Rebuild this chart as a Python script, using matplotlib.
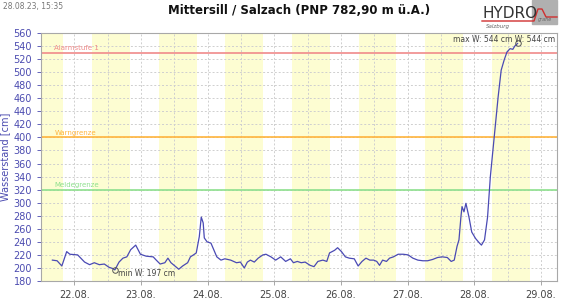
import numpy as np
import matplotlib.pyplot as plt
from matplotlib.patches import Rectangle

# hours since 22.08.2023 00:00 and water level in cm
hours = [-7.9, -6.2, -4.5, -2.75, -1.6, 1.2, 3.7, 5.5, 7.2, 9.0, 10.8, 12.5, 13.9, 14.6,
         16.1, 17.5, 18.9, 20.3, 22.1, 23.8, 25.9, 28.4, 29.5, 30.9, 32.6, 33.7, 34.8,
         36.5, 37.6, 39.0, 40.8, 41.8, 42.9, 43.9, 45.0, 45.7, 46.4, 46.8, 47.8, 49.2,
         50.3, 51.3, 52.8, 54.2, 56.3, 58.4, 59.8, 61.2, 62.3, 63.4, 64.8, 66.2, 67.9,
         69.0, 70.8, 72.5, 74.3, 76.1, 77.8, 78.9, 80.3, 81.7, 83.1, 84.9, 86.3, 87.7,
         89.5, 90.9, 91.9, 93.7, 94.8, 96.2, 97.6, 99.0, 100.8, 102.2, 103.6, 105.0,
         106.4, 107.8, 108.9, 109.9, 111.0, 112.4, 113.5, 114.9, 116.6, 118.4, 120.2,
         121.9, 123.7, 125.5, 127.2, 129.0, 130.8, 132.5, 134.3, 135.7, 136.8, 137.8,
         138.5, 139.2, 139.6, 140.3, 141.0, 142.1, 143.1, 144.5, 145.9, 146.6, 147.7,
         148.8, 149.8, 151.2, 152.6, 153.7, 154.8, 155.8, 156.9, 157.9, 158.6, 159.6]
level = [212, 211, 203, 225, 221, 220, 209, 205, 208, 205, 206, 201, 199, 197,
         209, 215, 217, 228, 235, 221, 218, 217, 212, 206, 208, 215, 208,
         202, 198, 203, 208, 217, 220, 223, 248, 278, 269, 246, 240, 238,
         227, 217, 212, 214, 212, 208, 209, 200, 209, 212, 209, 215, 220,
         221, 217, 212, 217, 210, 214, 208, 210, 208, 209, 204, 202, 210,
         212, 210, 223, 227, 231, 225, 217, 215, 214, 203, 210, 215,
         212, 212, 210, 204, 212, 210, 215, 217, 221, 221, 220,
         215, 212, 211, 211, 213, 216, 217, 216, 210, 212, 233,
         243, 278, 294, 286, 299, 278, 255, 245, 238, 235, 243,
         278, 340, 401, 462, 503, 519, 531, 536, 535, 540, 544]

day_labels = ['22.08.', '23.08.', '24.08.', '25.08.', '26.08.', '27.08.', '28.08.', '29.08.']
sunrise, sunset = 6.4, 20.0

limits = [530, 400, 320]
limit_names = ['Alarmstufe 1', 'Warngrenze', 'Meldegrenze']
limit_colors = ['#f08a8a', '#ffb43c', '#8ee08e']

fig = plt.figure(figsize=(5.63, 3.0), dpi=100)
ax = fig.add_axes([41 / 563, 19 / 300, 516 / 563, 248 / 300])

x0, x1 = -8.4, 173.8
for d in range(-1, 8):
    ax.axvspan(d * 24 + sunrise, d * 24 + sunset, color='#fdfdd2', lw=0, zorder=0)

ax.set_xlim(x0, x1)
ax.set_ylim(180, 560)
ax.set_yticks(np.arange(180, 561, 20))
ax.set_xticks([24 * i for i in range(len(day_labels))])
ax.set_xticklabels(day_labels)
ax.set_xticks([24 * i + 12 for i in range(-1, 7)], minor=True)
ax.grid(True, which='both', ls=(0, (2, 2)), color='#cfcfcf', lw=0.7, zorder=1)
ax.tick_params(axis='y', labelsize=7, colors='#4b4bb0', length=3, width=0.6)
ax.tick_params(axis='x', labelsize=7, labelcolor='#444444', color='#999999', length=3, width=0.6)
ax.tick_params(axis='x', which='minor', length=0)
for s in ax.spines.values():
    s.set_color('#a8a8a8')
    s.set_linewidth(0.8)

for val, name, col in zip(limits, limit_names, limit_colors):
    ax.axhline(val, color=col, lw=1.2, zorder=2)
    ax.text(x0 + 1.2, val + 2, name, color=col, fontsize=5, va='bottom', ha='left', zorder=3)

ax.plot(hours, level, color='#4a4ab4', lw=0.9, zorder=4)

imin = int(np.argmin(level))
imax = int(np.argmax(level))
ax.plot(hours[imin], level[imin], 'o', mfc='none', mec='#555555', ms=4, mew=0.7, zorder=5)
ax.plot(hours[imax], level[imax], 'o', mfc='none', mec='#555555', ms=4, mew=0.7, zorder=5)
ax.text(hours[imin] + 1.0, level[imin] - 5, 'min W: %d cm' % level[imin],
        fontsize=5.5, color='#444444', va='center', ha='left', zorder=6)
ax.text(x1 - 0.5, level[imax] + 6, 'max W: %d cm W: %d cm' % (level[imax], level[imax]),
        fontsize=5.5, color='#444444', va='center', ha='right', zorder=6)

ax.set_ylabel('Wasserstand [cm]', fontsize=7, color='#4b4bb0', labelpad=2)

fig.text(299 / 563, 1 - 10 / 300, 'Mittersill / Salzach (PNP 782,90 m ü.A.)',
         ha='center', va='center', fontsize=8.5, fontweight='bold', color='#111111')
fig.text(3 / 563, 1 - 6 / 300, '28.08.23, 15:35', ha='left', va='center',
         fontsize=5.5, color='#777777')

# logo
fig.text(483 / 563, 1 - 13 / 300, 'HYDRO', ha='left', va='center', fontsize=11, color='#333333')
fig.text(486 / 563, 1 - 26.5 / 300, 'Salzburg', ha='left', va='center', fontsize=4,
         color='#666666', style='italic')
fig.patches.append(Rectangle((532 / 563, 1 - 24 / 300), 25 / 563, 24 / 300,
                             transform=fig.transFigure, color='#b0b0b0', zorder=0))
fig.text(545 / 563, 1 - 20 / 300, 'grafie', ha='center', va='center', fontsize=3.5,
         color='#666666', style='italic')
lx = np.array([482, 534, 538, 542, 546, 557]) / 563
ly = 1 - np.array([21, 21, 9, 9, 17, 17]) / 300
fig.lines.append(plt.Line2D(lx, ly, transform=fig.transFigure, color='#d03030', lw=1.0))

fig.savefig('out.png', dpi=100)
